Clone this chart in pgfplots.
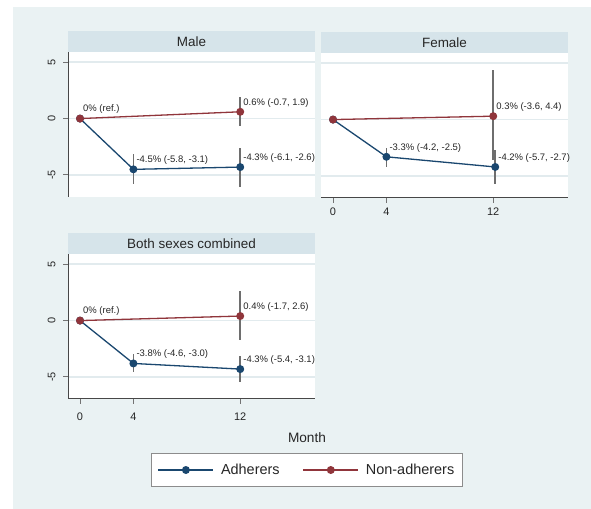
\documentclass[border=0pt]{standalone}
\usepackage{fontspec}
\setmainfont{Liberation Sans}
\usepackage{pgfplots}
\pgfplotsset{compat=1.18}
\usepackage{pgfplotstable}

\definecolor{bg}{HTML}{EAF2F3}
\definecolor{strip}{HTML}{D6E4EA}
\definecolor{navyS}{HTML}{1A476F}
\definecolor{maroonS}{HTML}{90353B}
\definecolor{gridc}{HTML}{E2EBEE}
\definecolor{cigray}{HTML}{6E6E6E}

% Male
\pgfplotstableread{
x y lo hi label
0 0 0 0 {}
4 -4.5 -5.8 -3.1 {-4.5\% (-5.8, -3.1)}
12 -4.3 -6.1 -2.6 {-4.3\% (-6.1, -2.6)}
}\MaleA
\pgfplotstableread{
x y lo hi label
0 0 0 0 {0\% (ref.)}
12 0.6 -0.7 1.9 {0.6\% (-0.7, 1.9)}
}\MaleN
% Female
\pgfplotstableread{
x y lo hi label
0 0 0 0 {}
4 -3.3 -4.2 -2.5 {-3.3\% (-4.2, -2.5)}
12.15 -4.2 -5.7 -2.7 {-4.2\% (-5.7, -2.7)}
}\FemA
\pgfplotstableread{
x y lo hi label
0 0 0 0 {}
12 0.3 -3.6 4.4 {0.3\% (-3.6, 4.4)}
}\FemN
% Both
\pgfplotstableread{
x y lo hi label
0 0 0 0 {}
4 -3.8 -4.6 -3.0 {-3.8\% (-4.6, -3.0)}
12 -4.3 -5.4 -3.1 {-4.3\% (-5.4, -3.1)}
}\BothA
\pgfplotstableread{
x y lo hi label
0 0 0 0 {0\% (ref.)}
12 0.4 -1.7 2.6 {0.4\% (-1.7, 2.6)}
}\BothN

\pgfplotsset{
  panel/.style={
    scale only axis, width=247bp, height=145bp,
    xmin=-0.9, xmax=17.6, ymin=-6.95, ymax=5.9,
    xtick={0,4,12}, ytick={-5,0,5},
    clip=false,
    axis background/.style={fill=white},
    axis x line*=bottom, axis y line*=left,
    axis line style={-, black!72, line width=1bp},
    tick align=outside, major tick length=5bp,
    tick style={black!55, line width=1bp},
    ymajorgrids, major grid style={gridc, line width=1.6bp},
    /pgf/number format/assume math mode=true,
    tick label style={font=\fontsize{11}{13}\selectfont, text=black!85},
    yticklabel style={rotate=90, anchor=south, yshift=4bp},
    xticklabel style={yshift=-1bp},
    every axis title/.style={at={(0.5,1)}, anchor=south, fill=strip,
      minimum width=247bp, minimum height=21bp, inner sep=0pt,
      font=\fontsize{13.5}{16}\selectfont, text=black!85},
  },
  noxaxis/.style={x axis line style={draw=none}, xtick style={draw=none}, xticklabels={}},
  noyaxis/.style={y axis line style={draw=none}, ytick style={draw=none}, yticklabels={}},
  ci/.style={forget plot, only marks, mark=none,
    error bars/.cd, y dir=both, y explicit, error mark=none,
    error bar style={cigray, line width=1.6bp}},
  ser/.style={#1, line width=1.3bp, mark=*, mark size=3.3bp,
    mark options={solid, fill=#1},
    nodes near coords, point meta=explicit symbolic,
    nodes near coords style={anchor=south west, inner sep=0.5bp, xshift=2bp, yshift=3.5bp,
      font=\fontsize{9.5}{11}\selectfont, text=black!85}},
}

\newcommand{\ciplot}[1]{\addplot[ci] table[x=x, y=y, y error plus expr=\thisrow{hi}-\thisrow{y}, y error minus expr=\thisrow{y}-\thisrow{lo}] {#1};}

\begin{document}
\begin{tikzpicture}
\fill[white] (0bp,0bp) rectangle (591bp,509bp);
\fill[bg] (13bp,-10bp) rectangle (601bp,502bp);

% Male
\begin{axis}[panel, noxaxis, at={(68bp,312bp)}, anchor=south west, title={Male}]
\ciplot{\MaleA}
\ciplot{\MaleN}
\addplot[ser=navyS] table[x=x, y=y, meta=label] {\MaleA};
\addplot[ser=maroonS] table[x=x, y=y, meta=label] {\MaleN};
\end{axis}

% Female
\begin{axis}[panel, noyaxis, at={(321bp,311bp)}, anchor=south west, title={Female}]
\ciplot{\FemA}
\ciplot{\FemN}
\addplot[ser=navyS] table[x=x, y=y, meta=label] {\FemA};
\addplot[ser=maroonS] table[x=x, y=y, meta=label] {\FemN};
\end{axis}

% Both
\begin{axis}[panel, at={(68bp,110bp)}, anchor=south west, title={Both sexes combined},
  xticklabel style={yshift=-4bp},
  legend columns=2,
  legend style={at={(axis description cs:0.9676,-0.4897)}, anchor=center,
    draw=black!45, line width=1bp, fill=white,
    font=\fontsize{14.5}{17}\selectfont, text=black!85,
    inner xsep=6bp, inner ysep=8.5bp,
    /tikz/every odd column/.append style={column sep=5bp},
    /tikz/every even column/.append style={column sep=21bp}},
  legend cell align=left,
  legend image code/.code={\draw[mark repeat=2, mark phase=2, #1] plot coordinates {(0bp,0bp) (27.5bp,0bp) (55bp,0bp)};},
]
\ciplot{\BothA}
\ciplot{\BothN}
\addplot[ser=navyS] table[x=x, y=y, meta=label] {\BothA};
\addlegendentry{Adherers}
\addplot[ser=maroonS] table[x=x, y=y, meta=label] {\BothN};
\addlegendentry{Non-adherers}
\end{axis}

\node[font=\fontsize{13.7}{16}\selectfont, text=black!85] at (307bp,71bp) {Month};
\pgfresetboundingbox
\path[use as bounding box] (0bp,0bp) rectangle (591bp,509bp);
\end{tikzpicture}
\end{document}
